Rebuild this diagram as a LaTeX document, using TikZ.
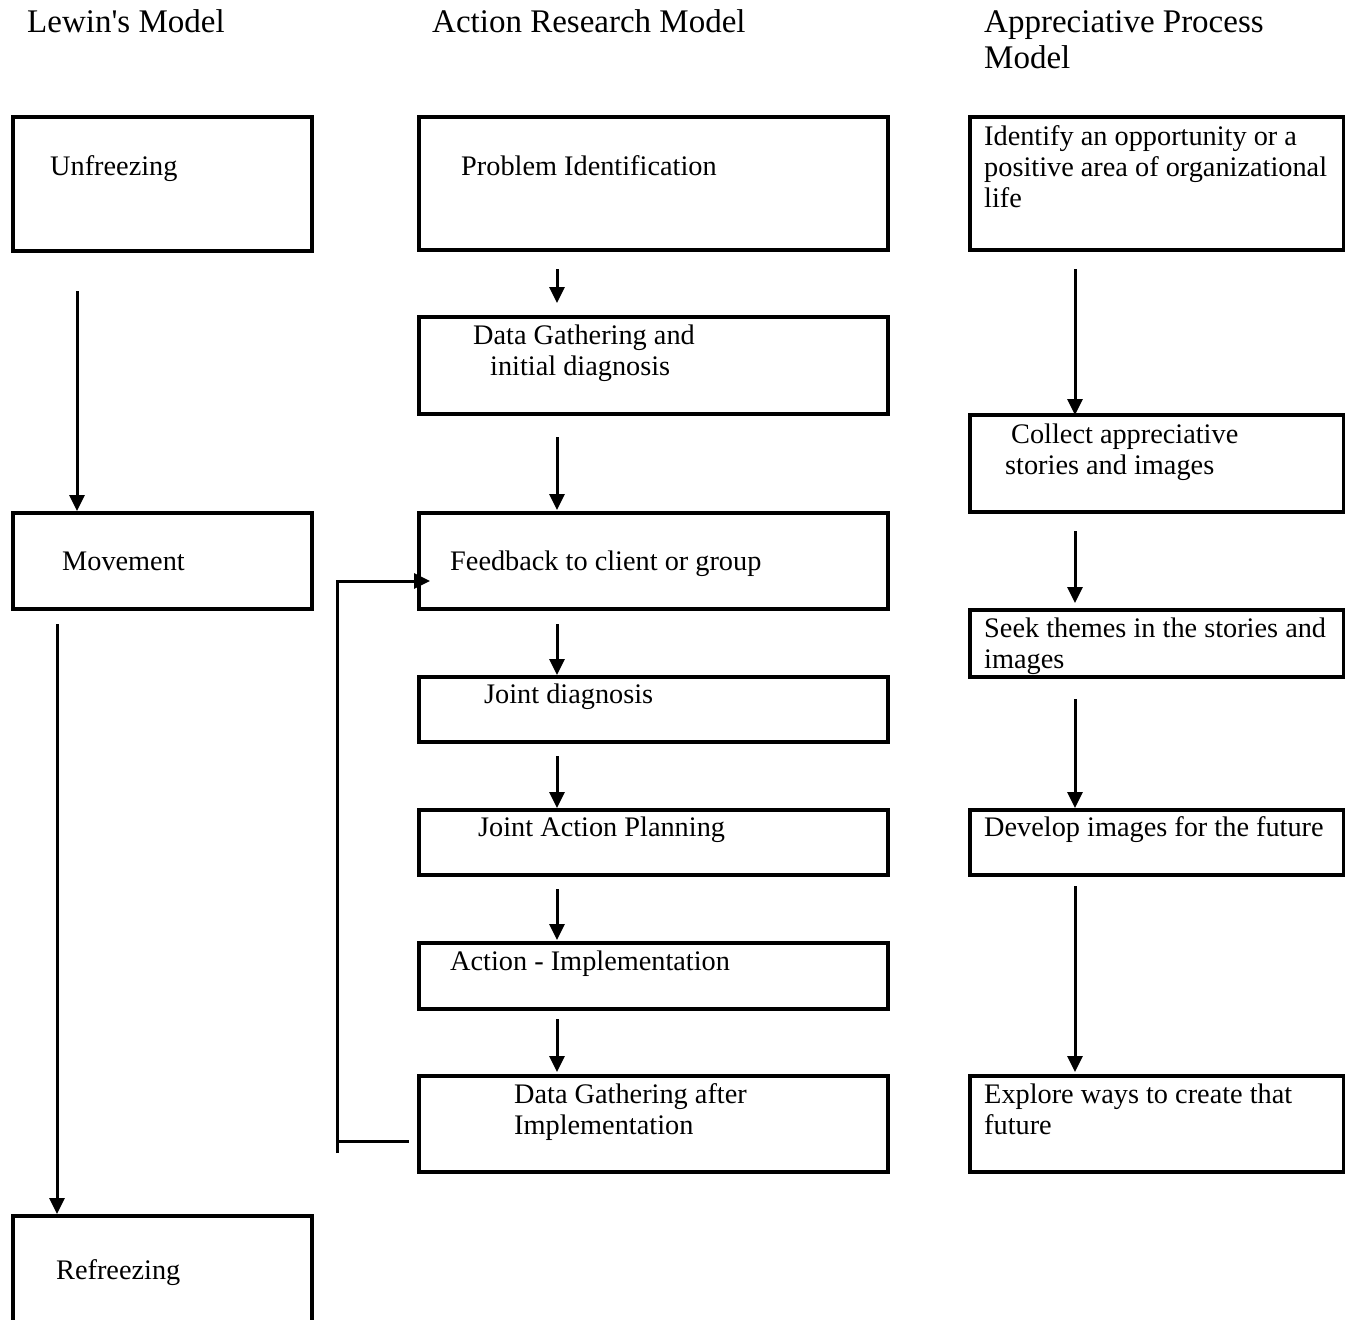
\documentclass[tikz,border=0pt]{standalone}
\usepackage{fontspec}
\setmainfont{Liberation Serif}
\usetikzlibrary{arrows.meta,calc}
\tikzset{
  box/.style={draw, line width=4pt, rectangle, inner sep=0pt, anchor=north west},
  txt/.style={anchor=base west, inner sep=0pt, align=left, font=\fontsize{28.3}{31}\selectfont},
  ttl/.style={anchor=base west, inner sep=0pt, align=left, font=\fontsize{33}{36}\selectfont},
  arr/.style={line width=3pt, -{Triangle[length=16pt,width=15pt]}},
  lnk/.style={line width=3pt}
}
\begin{document}
\begin{tikzpicture}[x=1pt,y=1pt]
\useasboundingbox (0,0) rectangle (1345,-1320);
% titles
\node[ttl] (t1) at (27,-32) {Lewin\textquotesingle s Model};
\node[ttl] (t2) at (432,-32) {Action Research Model};
\node[ttl] (t3) at (984,-68) {Appreciative Process\\Model};
% Lewin boxes
\node[box, minimum width=299pt, minimum height=134pt] (unf) at (10.5,-115) {};
\node[box, minimum width=299pt, minimum height=96pt] (mov) at (10.5,-511) {};
\node[box, minimum width=299pt, minimum height=121pt] (ref) at (10.5,-1214) {};
\node[txt] (unft) at (50,-175) {Unfreezing};
\node[txt] (movt) at (62,-570) {Movement};
\node[txt] (reft) at (56,-1279) {Refreezing};
% Action research boxes
\node[box, minimum width=469pt, minimum height=133pt] (pi) at (416.5,-115) {};
\node[box, minimum width=469pt, minimum height=97pt] (dg) at (416.5,-315) {};
\node[box, minimum width=469pt, minimum height=96pt] (fb) at (416.5,-511) {};
\node[box, minimum width=469pt, minimum height=65pt] (jd) at (416.5,-675) {};
\node[box, minimum width=469pt, minimum height=65pt] (jap) at (416.5,-808) {};
\node[box, minimum width=469pt, minimum height=66pt] (ai) at (416.5,-941) {};
\node[box, minimum width=469pt, minimum height=96pt] (dga) at (416.5,-1074) {};
\node[txt] (pit) at (461,-175) {Problem Identification};
\node[txt] (dgt) at (473,-375) {Data Gathering and\\\hspace*{17pt}initial diagnosis};
\node[txt] (fbt) at (450,-570) {Feedback to client or group};
\node[txt] (jdt) at (484,-703) {Joint diagnosis};
\node[txt] (japt) at (478,-836) {Joint Action Planning};
\node[txt] (ait) at (450,-970) {Action - Implementation};
\node[txt] (dgat) at (514,-1134) {Data Gathering after\\Implementation};
% Appreciative boxes
\node[box, minimum width=374pt, minimum height=133pt] (ap) at (968,-115) {};
\node[box, minimum width=374pt, minimum height=97pt] (col) at (968,-413) {};
\node[box, minimum width=374pt, minimum height=67pt] (seek) at (968,-608) {};
\node[box, minimum width=374pt, minimum height=65pt] (dev) at (968,-808) {};
\node[box, minimum width=374pt, minimum height=96pt] (exp) at (968,-1074) {};
\node[txt] (apt) at (984,-207) {Identify an opportunity or a\\positive area of organizational\\life};
\node[txt] (colt) at (1005,-474) {\hspace*{6pt}Collect appreciative\\stories and images};
\node[txt] (seekt) at (984,-668) {Seek themes in the stories and\\images};
\node[txt] (devt) at (984,-836) {Develop images for the future};
\node[txt] (expt) at (984,-1134) {Explore ways to create that\\future};
% Lewin arrows
\draw[arr] ($(unf.south west)+(66.5,-38)$) -- ($(mov.north west)+(66.5,0)$);
\draw[arr] ($(mov.south west)+(46.5,-13)$) -- ($(ref.north west)+(46.5,0)$);
% Action research arrows
\draw[arr] ($(pi.south west)+(140.5,-17)$) -- ($(dg.north west)+(140.5,12)$);
\draw[arr] ($(dg.south west)+(140.5,-21)$) -- ($(fb.north west)+(140.5,1)$);
\draw[arr] ($(fb.south west)+(140.5,-13)$) -- ($(jd.north west)+(140.5,0)$);
\draw[arr] ($(jd.south west)+(140.5,-12)$) -- ($(jap.north west)+(140.5,0)$);
\draw[arr] ($(jap.south west)+(140.5,-12)$) -- ($(ai.north west)+(140.5,1)$);
\draw[arr] ($(ai.south west)+(140.5,-8)$) -- ($(dga.north west)+(140.5,2)$);
% feedback loop
\coordinate (lpb) at (337,-1153);
\draw[lnk] ($(dga.west)+(-8,-17)$) -- ($(dga.west)+(-81,-17)$);
\draw[arr] (lpb) |- ($(fb.west)+(13.5,-20)$);
% Appreciative arrows
\draw[arr] ($(ap.south west)+(107,-17)$) -- ($(col.north west)+(107,-2)$);
\draw[arr] ($(col.south west)+(107,-17)$) -- ($(seek.north west)+(107,5)$);
\draw[arr] ($(seek.south west)+(107,-20)$) -- ($(dev.north west)+(107,0)$);
\draw[arr] ($(dev.south west)+(107,-9)$) -- ($(exp.north west)+(107,2)$);
\end{tikzpicture}
\end{document}
